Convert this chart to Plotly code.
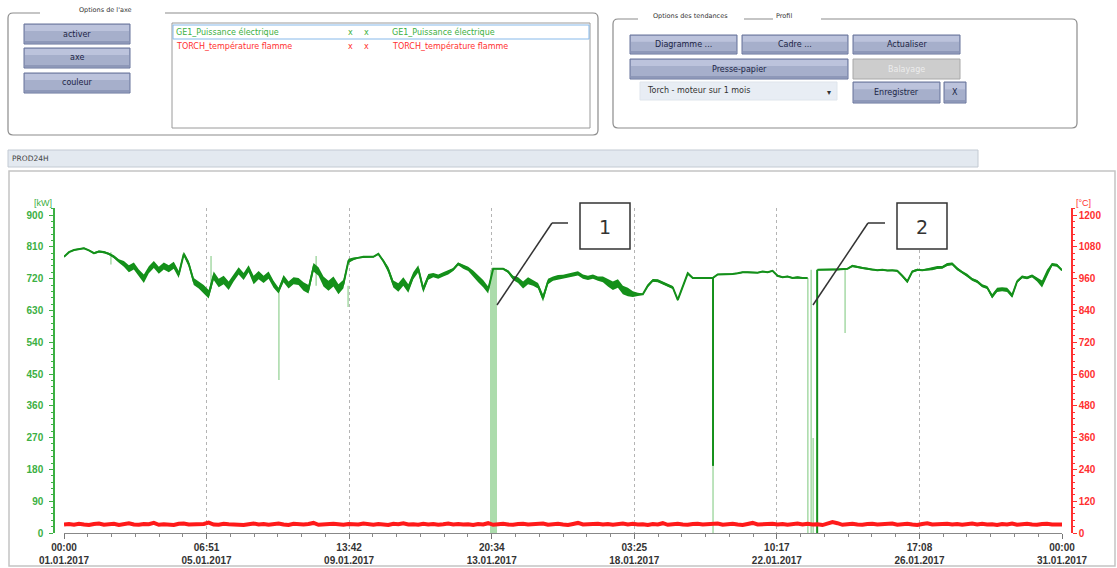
import plotly.graph_objects as go

# ---------------------------------------------------------------- data
# sample times in days since 01.01.2017 00:00 (one sample every 0.15 d)
SAMPLE_STEP_DAYS = 0.15
t_days = [round(i * SAMPLE_STEP_DAYS, 2) for i in range(201)]

# GE1 electrical power, averaged samples [kW]
power_kw = [
    782, 795, 801, 804, 806, 800, 792, 797, 795, 790,
    782, 770, 762, 748, 756, 736, 720, 745, 760, 744,
    756, 748, 758, 732, 790, 762, 712, 702, 690, 676,
    728, 708, 716, 700, 722, 742, 726, 748, 716, 730,
    718, 730, 704, 686, 720, 702, 714, 712, 698, 690,
    752, 740, 712, 700, 712, 690, 705, 770, 776, 780,
    782, 782, 782, 790, 770, 745, 705, 695, 712, 692,
    728, 748, 690, 725, 730, 726, 732, 738, 746, 762,
    754, 748, 735, 720, 706, 688, 748, 748, 748, 740,
    722, 716, 702, 714, 708, 700, 665, 712, 720, 724,
    725, 728, 732, 735, 726, 722, 726, 720, 718, 708,
    700, 706, 688, 682, 676, 676, 676, 700, 715, 714,
    708, 702, 695, 660, 700, 735, 722, 722, 720, 722,
    722, 732, 732, 733, 733, 735, 738, 738, 738, 737,
    740, 738, 742, 728, 724, 726, 722, 724, 722, 722,
    None, 745, 746, 746, 746, 746, 746, 748, 756, 752,
    750, 748, 745, 744, 745, 743, 744, 742, 728, 712,
    740, 745, 744, 746, 748, 752, 752, 760, 762, 748,
    738, 730, 718, 712, 700, 695, 670, 688, 690, 688,
    672, 712, 725, 722, 728, 718, 705, 735, 760, 758,
    744,
]

# short-term fluctuation of the power around each sample (half band) [kW]
power_spread_kw = [
    2, 2, 2, 2, 2, 2, 3, 3, 3, 3,
    4, 5, 8, 10, 10, 10, 12, 10, 10, 10,
    10, 10, 10, 10, 6, 8, 10, 10, 12, 12,
    12, 12, 12, 12, 10, 10, 10, 10, 12, 12,
    10, 10, 10, 8, 10, 10, 10, 10, 12, 12,
    12, 12, 14, 14, 14, 14, 12, 6, 4, 2,
    2, 2, 2, 2, 4, 8, 10, 12, 12, 12,
    10, 10, 10, 8, 6, 6, 6, 6, 4, 4,
    6, 6, 8, 10, 10, 10, 2, 2, 2, 4,
    6, 8, 10, 10, 8, 8, 10, 8, 6, 6,
    6, 6, 6, 6, 6, 6, 6, 6, 8, 10,
    12, 12, 12, 12, 8, 4, 2, 4, 4, 4,
    4, 4, 4, 4, 4, 4, 2, 2, 2, 2,
    2, 2, 2, 2, 2, 2, 2, 2, 2, 2,
    2, 2, 2, 2, 2, 2, 2, 2, 2, 2,
    0, 2, 2, 2, 2, 2, 2, 2, 3, 3,
    3, 3, 2, 2, 2, 2, 2, 3, 4, 4,
    3, 3, 2, 3, 4, 4, 4, 4, 4, 4,
    4, 4, 4, 4, 4, 4, 6, 6, 6, 6,
    6, 4, 4, 4, 4, 6, 10, 10, 4, 4,
    2,
]

# TORCH flame temperature [°C]
flame_c = [
    32, 34, 31, 35, 32, 30, 34, 36, 31, 33,
    35, 30, 32, 37, 32, 31, 34, 33, 38, 31,
    33, 32, 30, 35, 36, 32, 33, 31, 34, 39,
    32, 31, 35, 33, 32, 34, 30, 33, 36, 32,
    34, 31, 33, 36, 32, 30, 35, 33, 32, 34,
    38, 31, 33, 32, 35, 33, 31, 34, 32, 32,
    36, 33, 31, 34, 32, 30, 35, 33, 37, 32,
    33, 31, 35, 32, 34, 31, 33, 36, 32, 34,
    32, 33, 30, 34, 32, 37, 31, 33, 35, 32,
    31, 34, 35, 32, 33, 32, 36, 31, 33, 35,
    32, 30, 34, 38, 32, 33, 31, 35, 32, 34,
    31, 33, 36, 32, 35, 32, 33, 30, 34, 32,
    37, 31, 33, 35, 32, 31, 34, 35, 32, 33,
    32, 36, 31, 33, 35, 32, 30, 34, 38, 32,
    33, 31, 35, 32, 34, 31, 33, 36, 32, 35,
    32, 33, 30, 34, 41, 37, 31, 33, 35, 32,
    31, 34, 35, 32, 33, 32, 36, 31, 33, 35,
    32, 30, 34, 37, 32, 33, 31, 35, 32, 34,
    31, 33, 36, 32, 35, 32, 33, 30, 34, 32,
    36, 31, 33, 35, 32, 31, 34, 35, 32, 33,
    32,
]

# min/max envelope excursions of the power signal (light green)
env_days = [1.41, 4.42, 6.46, 7.58, 8.54, 19.51, 22.36, 22.46, 22.52, 23.48]
env_low = [760, 690, 433, 700, 640, 0, 0, 0, 0, 566]
env_high = [795, 784, 690, 784, 700, 720, 722, 745, 269, 745]

# envelope drop to zero around event 1
band_day = 12.91
band_width_days = 0.21
band_top_kw = 745

# averaged-value drops (dark green)
trip_days = [19.51, 22.64]
trip_low = [190, 0]
trip_high = [722, 745]

# x-axis ticks: seven equal divisions of the month
tick_times = ["00:00", "06:51", "13:42", "20:34", "03:25", "10:17", "17:08", "00:00"]
tick_dates = ["01.01.2017", "05.01.2017", "09.01.2017", "13.01.2017",
              "18.01.2017", "22.01.2017", "26.01.2017", "31.01.2017"]
SPAN_DAYS = 30

series_names = ["GE1_Puissance électrique", "TORCH_température flamme"]

# ---------------------------------------------------------------- styling
W, H = 1117, 568
GREEN = "#14901a"
GREEN_LIGHT = "#acdcac"
GREEN_TXT = "#3cb043"
RED = "#ff1a1a"
RED_TXT = "#ff3030"
UI_FONT = "DejaVu Sans"
AX_FONT = "Liberation Sans"


def px(x):
    return x / W


def py(y):
    return 1 - y / H


fig = go.Figure()

# light envelope band (event 1)
fig.add_trace(go.Bar(
    x=[band_day], y=[band_top_kw], width=[band_width_days],
    marker=dict(color=GREEN_LIGHT, line=dict(width=0)),
    xaxis="x", yaxis="y", hoverinfo="skip", showlegend=False,
))

# light envelope spikes
ex, ey = [], []
for d, lo, hi in zip(env_days, env_low, env_high):
    ex += [d, d, None]
    ey += [lo, hi, None]
fig.add_trace(go.Scatter(
    x=ex, y=ey, mode="lines", line=dict(color=GREEN_LIGHT, width=1.6),
    xaxis="x", yaxis="y", hoverinfo="skip", showlegend=False,
))

# flame temperature (right axis)
fig.add_trace(go.Scatter(
    x=t_days, y=flame_c, mode="lines", name=series_names[1],
    line=dict(color=RED, width=4), xaxis="x", yaxis="y2", showlegend=False,
))

# fluctuation band of the power, one polygon per uninterrupted run
runs, cur = [], []
for t, p, s in zip(t_days, power_kw, power_spread_kw):
    if p is None:
        if cur:
            runs.append(cur)
        cur = []
    else:
        cur.append((t, p, s))
if cur:
    runs.append(cur)
for run in runs:
    xs = [r[0] for r in run] + [r[0] for r in reversed(run)]
    ys = [r[1] + r[2] for r in run] + [r[1] - r[2] for r in reversed(run)]
    fig.add_trace(go.Scatter(
        x=xs, y=ys, mode="lines", fill="toself", fillcolor=GREEN,
        line=dict(width=0, color=GREEN), xaxis="x", yaxis="y",
        hoverinfo="skip", showlegend=False,
    ))

# power (left axis)
fig.add_trace(go.Scatter(
    x=t_days, y=power_kw, mode="lines", name=series_names[0],
    line=dict(color=GREEN, width=2), connectgaps=False,
    xaxis="x", yaxis="y", showlegend=False,
))

# dark drops of the averaged power
tx, ty = [], []
for d, lo, hi in zip(trip_days, trip_low, trip_high):
    tx += [d, d, None]
    ty += [lo, hi, None]
fig.add_trace(go.Scatter(
    x=tx, y=ty, mode="lines", line=dict(color=GREEN, width=2),
    xaxis="x", yaxis="y", hoverinfo="skip", showlegend=False,
))

# ---------------------------------------------------------------- axes
Y_BOTTOM, Y_TOP = 533, 208
KW_TOP = 920
C_TOP = 1200 * KW_TOP / 900

tickvals = [k * SPAN_DAYS / 7 for k in range(8)]
ticktext = [f"{a}<br>{b}" for a, b in zip(tick_times, tick_dates)]

fig.update_layout(
    width=W, height=H,
    margin=dict(l=0, r=0, t=0, b=0, pad=0, autoexpand=False),
    paper_bgcolor="white", plot_bgcolor="white",
    showlegend=False, bargap=0,
    xaxis=dict(
        domain=[px(64), px(1062)], range=[0, SPAN_DAYS], anchor="y",
        automargin=False,
        tickmode="array", tickvals=tickvals, ticktext=ticktext,
        ticks="outside", ticklen=5, tickcolor="#777",
        showline=True, linecolor="#888", linewidth=1,
        showgrid=True, gridcolor="#b4b4b4", griddash="dot", gridwidth=1,
        zeroline=False,
        minor=dict(tickmode="linear", tick0=0, dtick=SPAN_DAYS / 42,
                   ticks="outside", ticklen=3, tickcolor="#888", showgrid=False),
        tickfont=dict(family=AX_FONT, size=10, color="#333", weight="bold"),
    ),
    yaxis=dict(
        domain=[py(Y_BOTTOM), py(Y_TOP)], range=[0, KW_TOP],
        anchor="free", position=px(54), side="left", automargin=False,
        tick0=0, dtick=90, ticks="outside", ticklen=4, tickcolor=GREEN_TXT,
        ticklabelstandoff=4,
        showline=True, linecolor=GREEN_TXT, linewidth=1.5,
        showgrid=False, zeroline=False,
        minor=dict(dtick=18, ticks="outside", ticklen=2, tickcolor=GREEN_TXT),
        tickfont=dict(family=AX_FONT, size=10, color=GREEN_TXT, weight="bold"),
    ),
    yaxis2=dict(
        domain=[py(Y_BOTTOM), py(Y_TOP)], range=[0, C_TOP],
        overlaying="y", anchor="free", position=px(1072), side="right",
        automargin=False,
        tick0=0, dtick=120, ticks="outside", ticklen=4, tickcolor=RED_TXT,
        showline=True, linecolor=RED_TXT, linewidth=1.5,
        showgrid=False, zeroline=False,
        minor=dict(dtick=24, ticks="outside", ticklen=2, tickcolor=RED_TXT),
        tickfont=dict(family=AX_FONT, size=10, color=RED_TXT, weight="bold"),
    ),
)

# ---------------------------------------------------------------- panel widgets
shapes = []
annotations = []


def rect(x0, y0, x1, y1, fill=None, line=None, lw=1, layer="above"):
    shapes.append(dict(
        type="rect", xref="paper", yref="paper",
        x0=px(x0), x1=px(x1), y0=py(y1), y1=py(y0),
        fillcolor=fill if fill else "rgba(0,0,0,0)",
        line=dict(color=line if line else "rgba(0,0,0,0)", width=lw if line else 0),
        layer=layer,
    ))


def rrect(x0, y0, x1, y1, r=5, line="#8c8c8c", lw=1.2):
    X, Y = px, py
    p = (f"M {X(x0 + r)} {Y(y0)} L {X(x1 - r)} {Y(y0)} "
         f"Q {X(x1)} {Y(y0)} {X(x1)} {Y(y0 + r)} L {X(x1)} {Y(y1 - r)} "
         f"Q {X(x1)} {Y(y1)} {X(x1 - r)} {Y(y1)} L {X(x0 + r)} {Y(y1)} "
         f"Q {X(x0)} {Y(y1)} {X(x0)} {Y(y1 - r)} L {X(x0)} {Y(y0 + r)} "
         f"Q {X(x0)} {Y(y0)} {X(x0 + r)} {Y(y0)} Z")
    shapes.append(dict(type="path", xref="paper", yref="paper", path=p,
                       line=dict(color=line, width=lw)))


def seg(x0, y0, x1, y1, color="#333", w=1.5):
    shapes.append(dict(type="line", xref="paper", yref="paper",
                       x0=px(x0), y0=py(y0), x1=px(x1), y1=py(y1),
                       line=dict(color=color, width=w)))


def text(x, y, s, size=8, color="#222", anchor="center", family=UI_FONT):
    annotations.append(dict(
        x=px(x), y=py(y), xref="paper", yref="paper", text=s, showarrow=False,
        xanchor=anchor, yanchor="middle",
        font=dict(family=family, size=size, color=color),
    ))


def button(x0, y0, x1, y1, label, enabled=True):
    if enabled:
        rect(x0, y0, x1, y1, fill="#a6afcb", line="#66729a", lw=1)
        rect(x0 + 1, y0 + 1, x1 - 1, y0 + (y1 - y0) * 0.35, fill="#bcc3dc")
        rect(x0 + 1, y1 - 3, x1 - 1, y1 - 1, fill="#8e98b8")
        text((x0 + x1) / 2, (y0 + y1) / 2, label, size=8, color="#1c2546")
    else:
        rect(x0, y0, x1, y1, fill="#cdcdcd", line="#a8a8a8", lw=1)
        text((x0 + x1) / 2, (y0 + y1) / 2, label, size=8, color="#ececec")


# chart panel frame
rect(9, 171, 1115, 566, line="#c4c4c4", lw=1.5, layer="below")

# left group: axis options
rrect(8, 13, 598, 135)
rect(40, 8, 165, 18, fill="white")
text(105, 10, "Options de l'axe", size=6.5, color="#333")
button(24, 24, 130, 44, "activer")
button(24, 48, 130, 68, "axe")
button(24, 73, 130, 93, "couleur")

rect(172, 23, 590, 128, fill="white", line="#9a9a9a", lw=1)
rect(173, 25, 589, 39, line="#86b9ea", lw=1)
text(174, 32, series_names[0], size=8, color=GREEN_TXT, anchor="left")
text(346, 32, "x", size=8, color=GREEN_TXT, anchor="left")
text(362, 32, "x", size=8, color=GREEN_TXT, anchor="left")
text(390, 32, series_names[0], size=8, color=GREEN_TXT, anchor="left")
text(174, 46, series_names[1], size=8, color=RED_TXT, anchor="left")
text(346, 46, "x", size=8, color=RED_TXT, anchor="left")
text(362, 46, "x", size=8, color=RED_TXT, anchor="left")
text(390, 46, series_names[1], size=8, color=RED_TXT, anchor="left")

# right group: trend options / profile
rrect(613, 19, 1077, 128)
rect(638, 14, 744, 24, fill="white")
rect(773, 14, 821, 24, fill="white")
text(691, 16, "Options des tendances", size=6.5, color="#333")
text(784, 16, "Profil", size=6.5, color="#333")
button(630, 35, 737, 54, "Diagramme ...")
button(742, 35, 848, 54, "Cadre ...")
button(853, 35, 960, 54, "Actualiser")
button(630, 59, 848, 79, "Presse-papier")
button(853, 59, 960, 79, "Balayage", enabled=False)
rect(640, 82, 837, 100, fill="#e8edf4", line="#dfe5ec", lw=1)
text(645, 91, "Torch - moteur sur 1 mois", size=8, color="#333", anchor="left")
text(829, 92, "▾", size=8, color="#333")
button(853, 82, 940, 103, "Enregistrer")
button(944, 82, 966, 103, "X")

# series bar
rect(8, 150, 978, 167, fill="#e3e9f0", line="#c3cad3", lw=1)
text(10, 158.5, "PROD24H", size=7.5, color="#444", anchor="left")

# axis unit headers
text(43, 203, "[kW]", size=9, color=GREEN_TXT, family=AX_FONT)
text(1083, 203, "[°C]", size=9, color=RED_TXT, family=AX_FONT)

# event callouts
seg(497, 305, 552, 223)
seg(552, 223, 568, 223)
rect(580, 203, 630, 249, fill="white", line="#333", lw=1.5)
text(605, 227, "1", size=19, color="#333")

seg(813, 305, 868, 223)
seg(868, 223, 885, 223)
rect(897, 203, 947, 249, fill="white", line="#333", lw=1.5)
text(922, 227, "2", size=19, color="#333")

fig.update_layout(shapes=shapes, annotations=annotations)

fig.write_html("out.html")
